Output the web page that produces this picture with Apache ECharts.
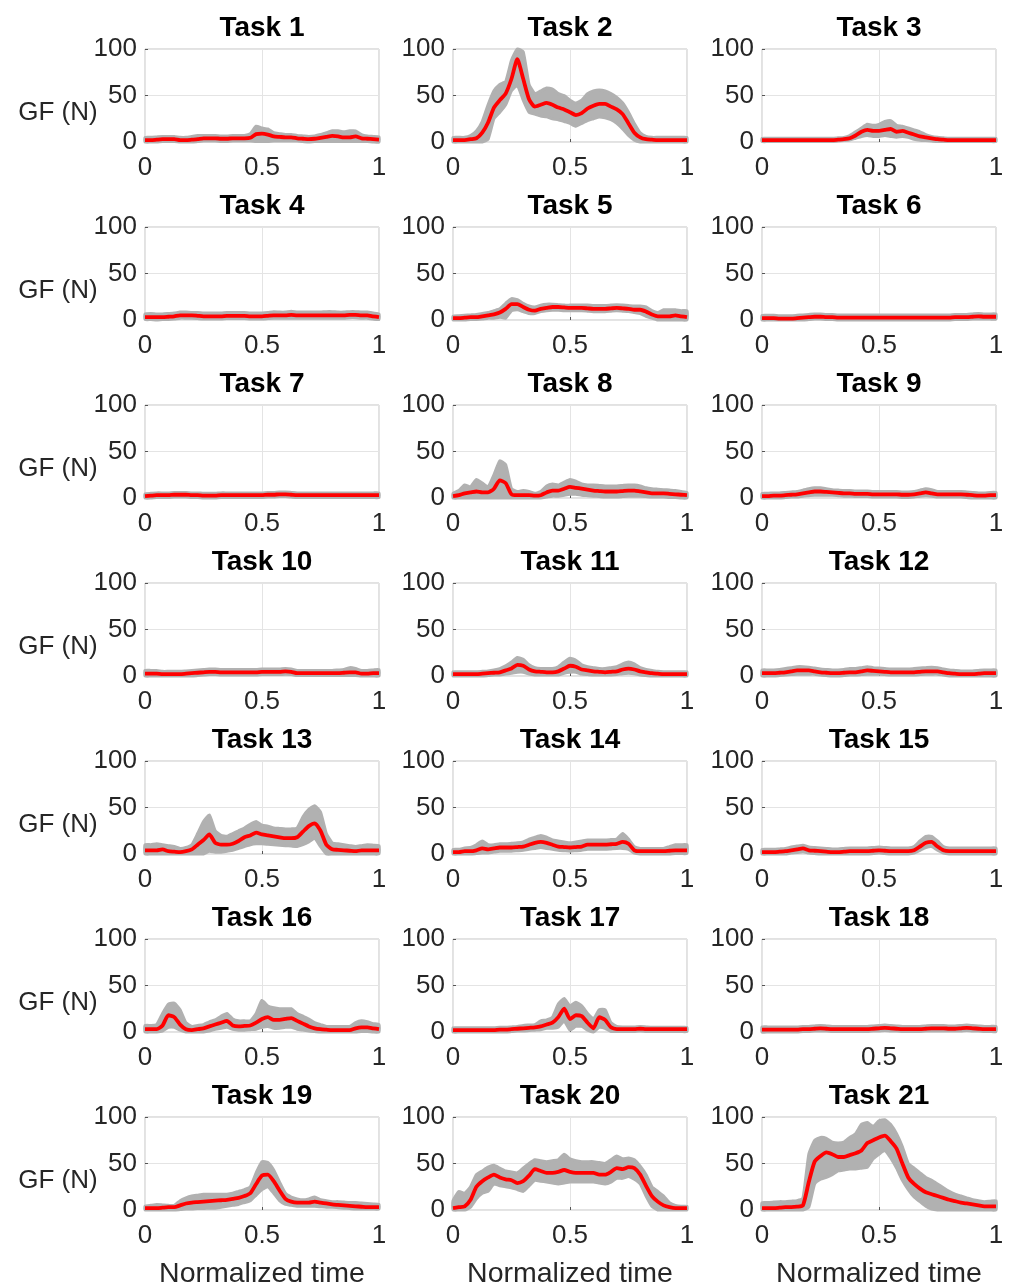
<!DOCTYPE html>
<html><head><meta charset="utf-8">
<script src="https://cdn.jsdelivr.net/npm/echarts@6/dist/echarts.min.js"></script>
<style>html,body{margin:0;padding:0;background:#fff}#c{width:1011px;height:1285px}</style>
</head><body><div id="c"></div>
<script>
// ---------------- DATA ----------------
const TIME = [0,0.025,0.05,0.075,0.1,0.125,0.15,0.175,0.2,0.225,0.25,0.275,0.3,0.325,0.35,0.375,0.4,0.425,0.45,0.475,0.5,0.525,0.55,0.575,0.6,0.625,0.65,0.675,0.7,0.725,0.75,0.775,0.8,0.825,0.85,0.875,0.9,0.925,0.95,0.975,1];
const TASKS = ['Task 1','Task 2','Task 3','Task 4','Task 5','Task 6','Task 7','Task 8','Task 9','Task 10','Task 11','Task 12','Task 13','Task 14','Task 15','Task 16','Task 17','Task 18','Task 19','Task 20','Task 21'];
const Y_TICKS = [0, 50, 100];
const X_TICKS = [0, 0.5, 1];
const Y_LABEL = 'GF (N)';
const X_LABEL = 'Normalized time';

// mean grip force per task
const MEAN = [
 [2,2,2.5,3,3,3,2,2,2.5,3, 4,4,4,3.5,3.5,4,4,4,4.5,8.5, 9,8,6,5.5,5,5,4,3.5,3,3.5, 4.5,5.5,6.5,6,5,5,6,4,3.5,3, 2.5],
 [2,2,2,3,4,10,21,37,45,52, 68,89,68,46,38,40,42,40,37,35, 32,29,31,36,39,41,41,38,35,30, 20,10,5,3,2.5,2,2,2,2,2, 2],
 [2,2,2,2,2,2,2,2,2,2, 2,2,2,2.5,3,4,7,11,13,12, 12,13,14,11,12,10,8,6,5,4, 3,2.5,2,2,2,2,2,2,2,2, 2],
 [3,3,3,3,3.5,4,5,5,5,4.5, 4,4,4,4,4.5,4.5,4.5,4.5,4,4, 4,4.5,5,5,5,5.5,5,5,5,5, 5,5,5,5,5,5.5,5.5,5,5,4, 3],
 [2,2,2.5,3,3,4,5,6,8,12, 17,17,14,11,10,12,13,14,14,13.5, 13,13,13,12.5,12,12,12,12.5,13,12.5, 12,11,11,9,6,4,4,4,5,4, 3],
 [2,2,2,1.5,1.5,1.5,2,2.5,3,3.5, 3.5,3,3,2.5,2.5,2.5,2.5,2.5,2.5,2.5, 2.5,2.5,2.5,2.5,2.5,2.5,2.5,2.5,2.5,2.5, 2.5,2.5,2.5,3,3,3,3.5,4,3.5,3.5, 3.5],
 [2,2.5,3,3,3,3.5,3.5,3.5,3,3, 2.5,2.5,2.5,3,3,3,3,3,3,3, 3,3.5,3.5,4,4,3.5,3,3,3,3, 3,3,3,3,3,3,3,3,3,3, 3],
 [2,3,5,6,7,6,6,10,19,16, 4,3,3,3,2.5,3,6,8,8,10, 12,11,10,9,8,7.5,7,7,7,7.5, 8,8,7,6,5,5,5,4.5,4,3.5, 3],
 [2,2,2.5,2.5,3,3.5,4,5,6,7, 7,6.5,6,5.5,5,5,4.5,4.5,4.5,4, 4,4,4,4,3.5,3.5,4,5,6,5, 4,4,4,4,4,3.5,3,2.5,2.5,3, 3],
 [2.5,2.5,2.5,2,2,2,2,2.5,3,3.5, 4,4.5,4.5,4,4,4,4,4,4,4, 4.5,4.5,4.5,4.5,5,4.5,3,3,3,3, 3,3,3,3,3.5,4,4,2.5,2.5,3, 3],
 [2,2,2,2,2,2.5,3,3.5,4,6, 8,12,11,7,5,4.5,4,4,5,8, 11,10,7,6,5,4.5,4,4.5,5,7, 8,7,5,4,3,2.5,2,2,2,2, 2],
 [3,3,3,3.5,4,5,6,6,6,5, 4,3.5,3,3,3.5,4,4,5,6,5.5, 5,4.5,4,4,4,4,4,4.5,5,5, 5,4,3,2.5,2,2,2,2.5,3,3, 3],
 [4,4,4,5,3,2.5,2,3,5,10, 15,21,12,10,10,11,14,18,20,23, 21,20,19,18,17,17,18,24,30,33, 25,10,5,4.5,4,3.5,3,4,4,4, 4],
 [2,2,3,3,4,6,5,6,7,7, 7,7.5,8,10,12,13,12,10,8,7.5, 7,7.5,8,10,10,10,10,10.5,11,13, 11,4,3,3,3,3,3,3.5,4,4, 4],
 [2,2,2,2.5,3,4,5,6,4,3.5, 3,2.5,2,2,2.5,3,3,3,3,3.5, 4,3.5,3,3,3,3,4,8,12,13, 8,4,3,3,3,3,3,3,3,3, 3],
 [3,3,3,7,18,16,8,3,2,3, 4,6,8,10,12,7,6,6.5,7,10, 14,16,13,13,14,15,12,9,6,4, 3,2.5,2,2,2,2,4,5,5,4, 3],
 [2,2,2,2,2,2,2,2,2.5,2.5, 3,3.5,4,4.5,5,6,8,10,16,25, 14,18,17,10,4,16,13,5,3,3, 3,3,3.5,3,3,3,3,3,3,3, 3],
 [2.5,2.5,2.5,2.5,2.5,2.5,2.5,3,3,3.5, 4,3.5,3,3,3,3,3,3,3,3.5, 4,4.5,4,3.5,3,3,3,3,3.5,4, 4,4,3.5,3.5,4,4.5,4,3.5,3,3, 3],
 [2,2,2,2.5,3,3,5,7,8,8.5, 9,9.5,10,10.5,11,12,13,15,18,28, 37,38,31,21,12,9,8,8,8,9, 8,7,6,5.5,5,4.5,4,3.5,3,3, 3],
 [2,3,4,11,25,31,35,38,35,33, 32,29,31,37,44,42,40,40,41,43, 41,40,40,40,40,38,38,41,45,44, 46,45,38,26,15,9,5,3,2,2, 2],
 [2,2,2,2.5,3,3,3.5,5,30,52, 58,62,60,57,57,59,61,64,72,75, 78,80,74,66,50,35,28,23,19,17, 15,13,11,9.5,8,7,6,5,4,4, 4]
];

// upper edge of the grey spread
const UPPER = [
 [5,5,5.5,6,6,6,5,5,6,7, 7,7,7,6.5,6.5,7,7,7,9,17, 15,14,10,9,8,8,7,6.5,6,6.5, 8,10,12,12,11,12,12,8,6.5,6, 5.5],
 [5,5,5,7,12,22,40,55,62,65, 88,100,97,62,52,55,58,57,52,50, 45,42,45,52,55,56,55,52,48,42, 32,20,10,6,5,5,5,5,5,5, 5],
 [4,4,4,4,4,4,4,4,4,4, 4,4,4,4.5,5,7,11,15,19,18, 19,22,23,18,17,15,13,11,8,6, 5,4.5,4,4,4,4,4,4,4,4, 4],
 [6.5,7,6.5,6.5,7,7.5,8.5,8.5,8,8, 7.5,7.5,7.5,7.5,8,8,8,8,7.5,7.5, 7.5,8,9,8.5,8.5,9.5,8.5,8.5,8.5,8.5, 8.5,9,9,8.5,8.5,9,9,8.5,8.5,7.5, 6.5],
 [4,4.5,5,5.5,6,7,8,10,12,18, 23,22,18,15,14,16,17,17,16.5,16, 16,16,16,16,15.5,15.5,15.5,16,16.5,16, 15.5,15,15,14,10,8,11,11,11,10, 10],
 [5,5,5,4.5,4.5,4.5,5,5.5,6,6.5, 6.5,6,6,5.5,5.5,5.5,5.5,5.5,5.5,5.5, 5.5,5.5,5.5,5.5,5.5,5.5,5.5,5.5,5.5,5.5, 5.5,5.5,5.5,6,6,6,6.5,7,6.5,6.5, 6.5],
 [4.5,5,5.5,5.5,5.5,6,6,6,5.5,5.5, 5,5,5,5.5,5.5,5.5,5.5,5.5,5.5,5.5, 5.5,6,6,6.5,6.5,6,5.5,5.5,5.5,5.5, 5.5,5.5,5.5,5.5,5.5,5.5,5.5,5.5,5.5,5.5, 5.5],
 [5,8,14,12,20,16,12,25,40,36, 10,7,8,7,5,7,13,15,14,17, 20,18,15,14,14,13.5,13,13,13,13.5, 14,14,13,11,10,9.5,9,8.5,8,7, 6],
 [5,5,5.5,5.5,6,6.5,7,8.5,10,11, 11,10,9,8.5,8,8,7.5,7.5,7.5,7, 7,7,7,7,6.5,6.5,7,8.5,10,9, 7,7,7,7,7,6.5,6,5.5,5.5,6, 6],
 [6,6,6,5,5,5,5,5.5,6,6.5, 7,7.5,7.5,7,7,7,7,7,7,7, 7.5,7.5,7.5,7.5,8,7.5,6,6,6,6, 6,6,6,6.5,7,9,8,6,6,6.5, 7],
 [4.5,4.5,4.5,4.5,4.5,5,5.5,6.5,8,11, 15,20,18,12,9,8,8,8,10,15, 19,17,12,10,9,8,8,9,10,13, 15,13,9,7,6,5,4.5,4.5,4.5,4.5, 4.5],
 [6.5,6.5,6.5,7,8,9,10,10,9.5,8.5, 7.5,7,6.5,6.5,7,8,8,9,10,9, 8.5,8,7.5,7.5,7.5,7.5,8,8.5,9,9.5, 9,7.5,6.5,6,5.5,5.5,5.5,6,6.5,6.5, 6.5],
 [10,10,11,10,9,8,6,7,10,22, 35,42,25,20,19,22,25,28,32,35, 31,30,28,27.5,27,27,28,40,48,52, 45,22,12,11,10,9,8,9,10,9.5, 9],
 [5,5,6.5,7,10,14,10,10,11,11, 11.5,12,13,16,18,20,18,15,14,13, 12,13,14,15,15,15,15,15.5,16,22, 16,8,6,6,6,6,6,8,10,10, 10],
 [5,5,5,5.5,6,7.5,8.5,9.5,7.5,7, 6.5,6,5.5,5.5,6,6.5,6.5,6.5,6.5,7, 7.5,7,6.5,6.5,6.5,6.5,8,14,19,19, 14,8,6.5,6.5,6.5,6.5,6.5,6.5,6.5,6.5, 6.5],
 [7,7,8,20,30,31,24,10,6,7, 8,11,13,17,20,14,12,12,12,20, 34,28,26,25,25,25,20,17,14,10, 8,6,6,6,6,6,10,12,11,9, 8],
 [4.5,4.5,4.5,4.5,4.5,4.5,4.5,4.5,5,5, 5.5,6,7,7.5,8,12,13,16,30,36, 28,32,28,20,14,24,24,10,6,5.5, 5.5,5.5,6,5.5,5,5,5,5,5,5, 5],
 [5.5,5.5,5.5,5.5,5.5,5.5,5.5,6,6,6.5, 7,6.5,6,6,6,6,6,6,6,6.5, 7,7.5,7,6.5,6,6,6,6,6.5,7, 7,7,6.5,6.5,7,7.5,7,6.5,6,6, 6],
 [4,5,6,5.5,5,5,10,13,15,16, 17,17,17,17,17,18,20,22,25,40, 52,51,43,30,18,14,12,11,12,14, 11,10,9,9,8.5,8,8,7.5,7,6.5, 6],
 [10,20,18,25,38,42,46,48,45,42, 41,40,45,50,54,53,52,53,54,60, 55,53,52,52,52,51,50,54,58,55, 56,54,47,38,25,20,15,8,5,4, 4],
 [8,8,8.5,9,9,9.5,10,13,60,75, 78,77,73,72,73,78,82,92,94,90, 96,97,92,82,68,50,45,40,35,32, 28,24,20,17,15,13,11,10,9,9.5, 10]
];

// lower edge of the grey spread
const LOWER = [
 [0,0,0,0.5,0.5,0.5,0,0,0,0.5, 1,1,1,0.5,0.5,1,1,1,1,0.5, 0.5,0.5,1,1,1,1,1,0.5,0,0.5, 0.5,0.5,0.5,0.5,0.5,0.5,0.5,0.5,0.5,0, 0],
 [0,0,0,0,0,0,3,25,32,40, 55,61,45,32,30,28,27,25,24,22, 20,17,20,23,25,27,26,24,20,14, 7,2,0,0,0,0,0,0,0,0, 0],
 [0.5,0.5,0.5,0.5,0.5,0.5,0.5,0.5,0.5,0.5, 0.5,0.5,0.5,1,1.5,2,4,6,7,6, 6,7,6,5,6,5,3,2,1.5,1, 0.5,0.5,0.5,0.5,0.5,0.5,0.5,0.5,0.5,0.5, 0.5],
 [0.5,0.5,0,0.5,0.5,1,2,2,2,1.5, 1,1,1,1,1.5,1.5,1.5,1.5,1,1, 1,1.5,2,2,2,2,2,2,2,2, 2,2,2,2,2,2.5,2.5,2,2,1, 0.5],
 [0,0,0,0.5,0.5,1,2,2,3,2, 10,11,9,7,7,9,10,10.5,10.5,10, 10,10,10,9.5,9,9,9,9.5,10,9.5, 9,8,7,4,2,0,0,0,0,0, 0],
 [0,0,0,0,0,0,0,0,0.5,1, 1,0.5,0.5,0,0,0,0,0,0,0, 0,0,0,0,0,0,0,0,0,0, 0,0,0,0.5,0.5,0.5,1,1,1,1, 1],
 [0,0,0.5,0.5,0.5,1,1,1,0.5,0.5, 0,0,0,0.5,0.5,0.5,0.5,0.5,0.5,0.5, 0.5,1,1,1.5,1.5,1,0.5,0.5,0.5,0.5, 0.5,0.5,0.5,0.5,0.5,0.5,0.5,0.5,0.5,0.5, 0.5],
 [0,0,0,0,0,0,0,0,0,0, 0,0,0,0,0,0,1,2,2,3, 4,4,3,2.5,2,1.5,1,1,1,1.5, 2,2,2,1.5,1,1,1,0.5,0.5,0, 0],
 [0,0,0,0,0.5,1,1,2,2.5,3, 3,3,3,2.5,2,2,1.5,1.5,1.5,1, 1,1,1,1,0.5,0.5,1,2,2.5,2, 1,1,1,1,1,0.5,0,0,0,0, 0],
 [0,0,0,0,0,0,0,0,0,0.5, 1,1.5,1.5,1,1,1,1,1,1,1, 1.5,1.5,1.5,1.5,2,1.5,0.5,0.5,0.5,0.5, 0.5,0.5,0.5,0.5,0.5,0.5,0.5,0,0,0, 0],
 [0,0,0,0,0,0,0.5,1,1,2, 3,4,4,2,1,1,1,1,1,3, 4,4,2,1.5,1,1,1,1,1.5,2.5, 3,2.5,1,0.5,0,0,0,0,0,0, 0],
 [0,0,0,0.5,1,1.5,2,2,2,2, 1,0.5,0,0,0.5,1,1,1.5,2,2, 2,1.5,1,1,1,1,1,1.5,2,2, 2,1,0,0,0,0,0,0,0,0, 0],
 [0,0,0,0,0,0,0,0,0,0, 0,3,2,2,3,4,6,8,10,11, 11,10.5,10,9.5,9,8.5,8,10,13,17, 8,0,0,0,0,0,0,0,0,0, 0],
 [0,0,0,0,0.5,1,1,2,3,3, 3,3.5,4,5,6,7,6,5,4,3.5, 3,3.5,4,5,5,5,5,5.5,6,6, 5,1,0,0,0,0,0,0,0.5,0.5, 0.5],
 [0,0,0,0,0,1,1.5,2.5,1,0.5, 0,0,0,0,0,0,0,0,0,0.5, 1,0.5,0,0,0,0,1,4,7,8, 4,1,0,0,0,0,0,0,0,0, 0],
 [0,0,0,1,5,5,2,0,0,0, 0,1,3,4,5,3,2,2,2.5,3, 5,6,4,4,5,5,3,2,1,0.5, 0,0,0,0,0,0,0,0.5,0.5,0, 0],
 [0,0,0,0,0,0,0,0,0,0, 0.5,1,1,1.5,2,2.5,4,4,5,12, 2,6,6,2,0,5,4,0.5,0.5,0.5, 0.5,0.5,1,0.5,0.5,0.5,0.5,0.5,0.5,0.5, 0.5],
 [0,0,0,0,0,0,0,0.5,0.5,1, 1,1,0.5,0.5,0.5,0.5,0.5,0.5,0.5,1, 1,1.5,1,1,0.5,0.5,0.5,0.5,1,1, 1,1,1,1,1,1.5,1,1,0.5,0.5, 0.5],
 [0,0,0,0,0,0,0.5,1,1,1.5, 1.5,2,2,3,4,5,6,8,10,16, 22,25,18,10,6,5,4,4,4,4, 3.5,3,3,2.5,2,1.5,1,1,1,1, 1],
 [0,0,0,3,12,18,20,28,26,25, 24,22,20,26,32,31,30,29,28,29, 30,30,30,30,30,29,28,30,34,34, 36,33,28,15,4,0,0,0,0,0, 0],
 [0,0,0,0,0,0,0,0,3,28, 33,35,38,42,43,44,44,45,46,55, 60,64,56,45,32,22,14,9,4,1, 0,0,0,0,0,0,0,0,0,0, 0]
];

// ---------------- LAYOUT ----------------
const COL_LEFT = [145, 453, 762];
const PLOT_W = 234, PLOT_H = 93, ROW_TOP0 = 49, ROW_STEP = 178;
const FONT = '"Liberation Sans", Arial, Helvetica, sans-serif';
const TICK_COLOR = '#262626';
const BAND = '#b1b1b1';

const grids = [], xAxes = [], yAxes = [], series = [], graphics = [];
TASKS.forEach((name, i) => {
  const r = Math.floor(i / 3), c = i % 3;
  const left = COL_LEFT[c], top = ROW_TOP0 + r * ROW_STEP;
  grids.push({ left, top, width: PLOT_W, height: PLOT_H, show: true,
    borderColor: '#c4c4c4', borderWidth: 1, backgroundColor: '#fff',
    containLabel: false, outerBoundsMode: 'none' });
  const isBottom = r === 6;
  xAxes.push({ type: 'value', gridIndex: i, min: X_TICKS[0], max: X_TICKS[X_TICKS.length - 1], interval: 0.5,
    axisLine: { show: false }, axisTick: { show: true, inside: true, length: 3, lineStyle: { color: '#555' } },
    axisLabel: { color: TICK_COLOR, fontSize: 26, fontFamily: FONT, margin: 13,
      formatter: v => String(v) },
    splitLine: { show: true, lineStyle: { color: '#e4e4e4', width: 1 } },
    name: isBottom ? X_LABEL : '', nameLocation: 'middle', nameGap: 50,
    nameTextStyle: { color: TICK_COLOR, fontSize: 28.5, fontFamily: FONT } });
  yAxes.push({ type: 'value', gridIndex: i, min: Y_TICKS[0], max: Y_TICKS[Y_TICKS.length - 1], interval: 50,
    axisLine: { show: false }, axisTick: { show: true, inside: true, length: 3, lineStyle: { color: '#555' } },
    axisLabel: { color: TICK_COLOR, fontSize: 26, fontFamily: FONT, margin: 8 },
    splitLine: { show: true, lineStyle: { color: '#e4e4e4', width: 1 } } });
  // grey spread as a polygon through the axis scales
  series.push({ type: 'custom', xAxisIndex: i, yAxisIndex: i, silent: true, z: 2,
    data: TIME.map((t, k) => [t, LOWER[i][k], UPPER[i][k]]),
    encode: { x: 0, y: [1, 2] },
    renderItem: (params, api) => {
      if (params.dataIndex !== 0) return null;
      const pts = [];
      for (let k = 0; k < TIME.length; k++) pts.push(api.coord([TIME[k], UPPER[i][k]]));
      for (let k = TIME.length - 1; k >= 0; k--) pts.push(api.coord([TIME[k], LOWER[i][k]]));
      return { type: 'polygon', shape: { points: pts, smooth: 0.15 },
        style: { fill: BAND, stroke: BAND, lineWidth: 3, lineJoin: 'round' } };
    } });
  series.push({ type: 'line', xAxisIndex: i, yAxisIndex: i,
    data: TIME.map((t, k) => [t, MEAN[i][k]]),
    symbol: 'none', smooth: 0.2, silent: true, z: 3,
    lineStyle: { color: '#ff0000', width: 3.8 } });
  graphics.push({ type: 'text', x: left + PLOT_W / 2, y: top - 21,
    style: { text: name, fontSize: 28, fontWeight: 'bold', fontFamily: FONT, fill: '#000',
      align: 'center', verticalAlign: 'middle' } });
  if (c === 0) {
    graphics.push({ type: 'text', x: 58, y: top + 64,
      style: { text: Y_LABEL, fontSize: 26, fontFamily: FONT, fill: TICK_COLOR,
        align: 'center', verticalAlign: 'middle' } });
  }
});

const chart = echarts.init(document.getElementById('c'), null, { renderer: 'canvas' });
chart.setOption({
  animation: false,
  backgroundColor: '#fff',
  grid: grids, xAxis: xAxes, yAxis: yAxes, series, graphic: graphics
});
</script>
</body></html>
